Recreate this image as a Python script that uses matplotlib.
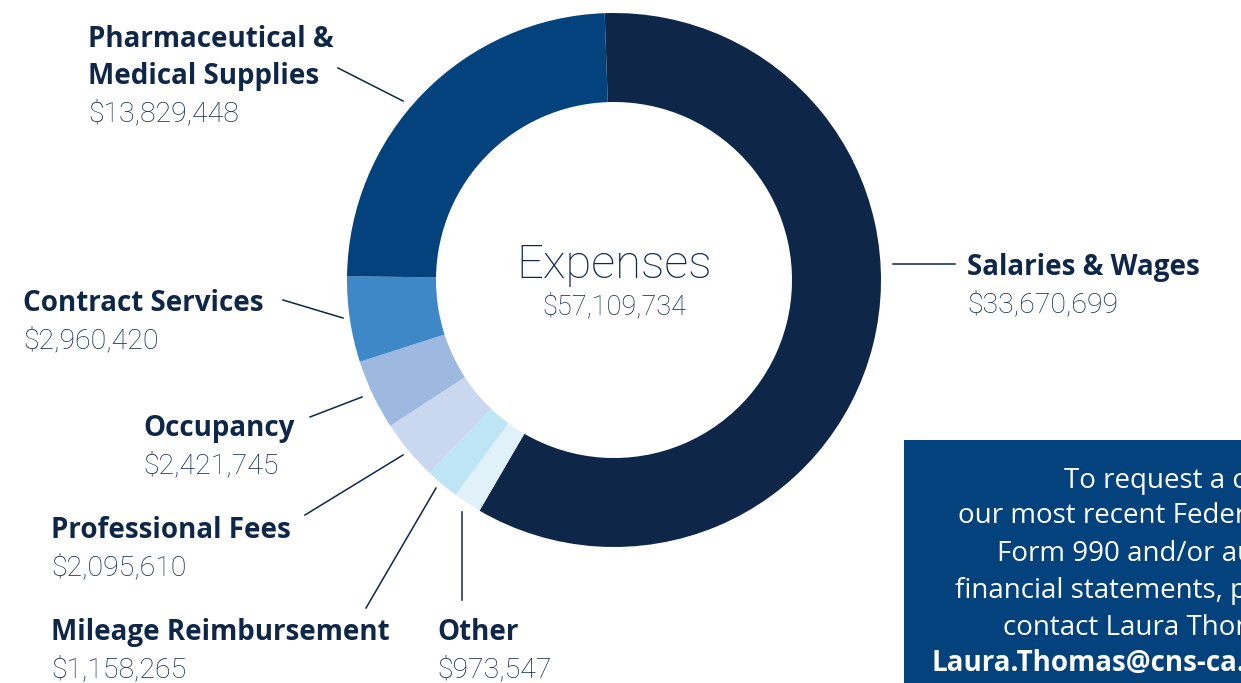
import matplotlib
matplotlib.use("Agg")
import matplotlib.pyplot as plt
from matplotlib.patches import Rectangle

# Expense categories, clockwise from the top
categories = ["Salaries & Wages", "Other", "Mileage Reimbursement", "Professional Fees",
              "Occupancy", "Contract Services", "Pharmaceutical &\nMedical Supplies"]
amounts = [33670699, 973547, 1158265, 2095610, 2421745, 2960420, 13829448]
colors = ["#0e2749", "#e0f1f9", "#bee5f3", "#c9d8ef", "#9db9e0", "#3e88c8", "#03427c"]
total = sum(amounts)

box_lines = ["To request a copy of", "our most recent Federal", "Form 990 and/or audited",
             "financial statements, please", "contact Laura Thomas at", "Laura.Thomas@cns-ca.org"]

W, H = 1241, 683
NAVY = "#0e2749"
LABEL_FONT = ["Open Sans", "DejaVu Sans"]
VALUE_FONT = ["Roboto", "DejaVu Sans"]

fig = plt.figure(figsize=(W / 100, H / 100), dpi=100)
ax = fig.add_axes([0, 0, 1, 1])

def Y(y):
    return H - y

ax.pie(amounts, colors=colors, startangle=92, counterclock=False,
       radius=267, center=(614, Y(280)),
       wedgeprops=dict(width=89, linewidth=0))
ax.set_xlim(0, W)
ax.set_ylim(0, H)
ax.set_aspect("equal")
ax.axis("off")

# centre text
ax.text(614, Y(278), "Expenses", ha="center", va="baseline", fontsize=34,
        family=VALUE_FONT, weight="light", color=NAVY)
ax.text(614, Y(314), "${:,}".format(total), ha="center", va="baseline", fontsize=19.5,
        family=VALUE_FONT, weight="light", color=NAVY)

# label: (x, label baseline, leader line)
labels = {
    "Salaries & Wages": (967, 275, [(893, 264), (955, 264)]),
    "Pharmaceutical &\nMedical Supplies": (88, 47, [(338, 68), (403, 101)]),
    "Contract Services": (23, 311, [(283, 300), (343, 318)]),
    "Occupancy": (143, 436, [(310, 417), (362, 397)]),
    "Professional Fees": (51, 538, [(305, 515), (403, 455)]),
    "Mileage Reimbursement": (51, 640, [(366, 608), (436, 488)]),
    "Other": (437, 640, [(462, 600), (462, 512)]),
}
for name, amt in zip(categories, amounts):
    x, yb, line = labels[name]
    rows = name.split("\n")
    for k, row in enumerate(rows):
        ax.text(x, Y(yb + 37 * k), row, ha="left", va="baseline", fontsize=20,
                family=LABEL_FONT, weight="bold", color=NAVY)
    ax.text(x, Y(yb + 37 * len(rows)), "${:,}".format(amt), ha="left", va="baseline",
            fontsize=20.5, family=VALUE_FONT, weight="light", color=NAVY)
    (x0, y0), (x1, y1) = line
    ax.plot([x0, x1], [Y(y0), Y(y1)], color=NAVY, lw=1.1)

# request box (runs off the right edge, as in the original)
ax.add_patch(Rectangle((904, 0), 500, Y(440), color="#03427c", lw=0))
starts = [1064, 958, 997, 955, 1003, 932]
baselines = [488, 523, 561, 598, 635, 671]
for i, (txt, x, yb) in enumerate(zip(box_lines, starts, baselines)):
    ax.text(x, Y(yb), txt, ha="left", va="baseline", fontsize=20, family=LABEL_FONT,
            weight="bold" if i == len(box_lines) - 1 else "normal", color="white")

fig.savefig("out.png", dpi=100)
